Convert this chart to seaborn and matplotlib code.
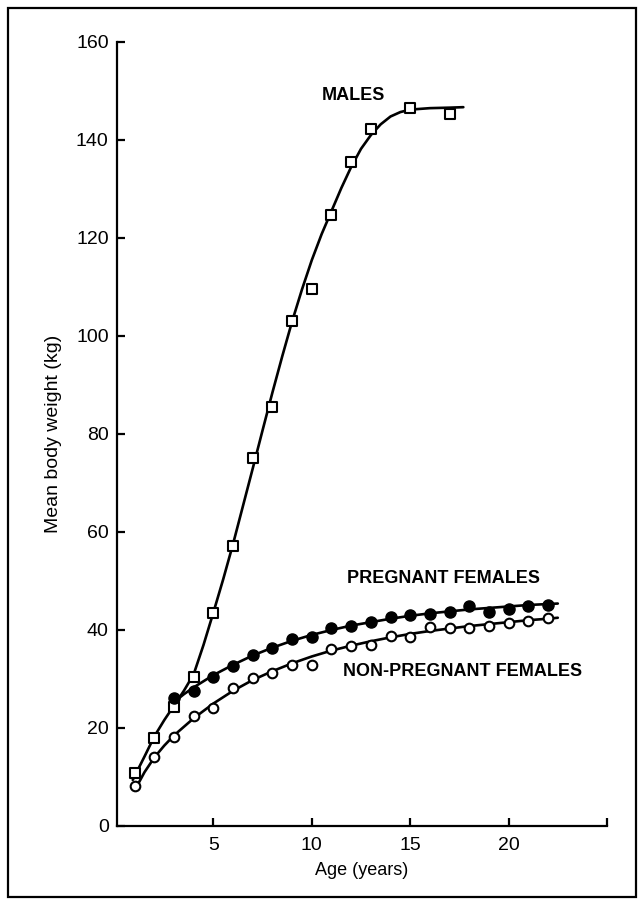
import matplotlib
matplotlib.use("Agg")
import matplotlib.pyplot as plt
import seaborn as sns
import pandas as pd
from matplotlib.patches import Rectangle

# ---- data ----
ages_males = [1, 2, 3, 4, 5, 6, 7, 8, 9, 10, 11, 12, 13, 15, 17]
males = [10.8, 17.9, 24.3, 30.4, 43.4, 57.1, 75.1, 85.5, 103.1, 109.6,
         124.6, 135.5, 142.3, 146.6, 145.4]

ages_pregnant = [3, 4, 5, 6, 7, 8, 9, 10, 11, 12, 13, 14, 15, 16, 17, 18,
                 19, 20, 21, 22]
pregnant = [26.1, 27.5, 30.5, 32.6, 34.8, 36.3, 38.1, 38.5, 40.4, 40.9,
            41.7, 42.7, 43.1, 43.2, 43.7, 44.9, 43.7, 44.3, 44.8, 45.2]

ages_nonpregnant = [1, 2, 3, 4, 5, 6, 7, 8, 9, 10, 11, 12, 13, 14, 15, 16,
                    17, 18, 19, 20, 21, 22]
nonpregnant = [8.2, 14.1, 18.2, 22.4, 24.1, 28.2, 30.2, 31.2, 32.9, 32.8,
               36.1, 36.7, 36.9, 38.8, 38.6, 40.6, 40.4, 40.4, 40.8, 41.4,
               41.8, 42.4]

# fitted curves
curve_males_x = [0.9, 1.5, 2, 2.5, 3, 3.5, 4, 4.5, 5, 5.5, 6, 6.5, 7, 7.5,
                 8, 8.5, 9, 9.5, 10, 10.5, 11, 11.5, 12, 12.5, 13, 13.5, 14,
                 14.5, 15, 16, 17, 17.7]
curve_males_y = [9.4, 14.2, 18.3, 21.6, 24.6, 27.6, 31.0, 37.0, 43.6, 50.4,
                 57.6, 65.3, 73.0, 80.8, 88.5, 95.9, 103.0, 109.5, 115.5,
                 120.8, 125.5, 130.2, 134.5, 138.2, 141.0, 143.2, 144.8,
                 145.7, 146.2, 146.5, 146.6, 146.7]

curve_preg_x = [3, 3.5, 4, 5, 6, 7, 8, 9, 10, 11, 12, 13, 14, 15, 16, 17,
                18, 19, 20, 21, 22, 22.5]
curve_preg_y = [25.3, 26.9, 28.3, 30.8, 32.9, 34.8, 36.4, 37.8, 39.0, 40.0,
                40.9, 41.6, 42.3, 42.9, 43.4, 43.8, 44.2, 44.5, 44.8, 45.1,
                45.3, 45.4]

curve_nonpreg_x = [1.0, 1.5, 2, 2.5, 3, 4, 5, 6, 7, 8, 9, 10, 11, 12, 13,
                   14, 15, 16, 17, 18, 19, 20, 21, 22, 22.5]
curve_nonpreg_y = [7.3, 11.0, 14.0, 16.4, 18.5, 22.0, 25.0, 27.6, 29.8, 31.6,
                   33.2, 34.6, 35.8, 36.8, 37.7, 38.5, 39.2, 39.8, 40.3, 40.8,
                   41.2, 41.6, 42.0, 42.3, 42.5]

y_ticks = [0, 20, 40, 60, 80, 100, 120, 140, 160]
x_ticks = [5, 10, 15, 20, 25]
x_tick_labels = ["5", "10", "15", "20", ""]
series_labels = ["MALES", "PREGNANT FEMALES", "NON-PREGNANT FEMALES"]

# ---- styling ----
sns.set_style("ticks")
plt.rcParams["font.family"] = ["Liberation Sans", "DejaVu Sans"]

fig = plt.figure(figsize=(6.39, 9.07), dpi=100)
ax = fig.add_axes([117 / 639, 1 - 826 / 907, 490 / 639, 784 / 907])

lw = 1.9
sns.lineplot(x=curve_males_x, y=curve_males_y, ax=ax, color="black",
             linewidth=lw, sort=False)
sns.lineplot(x=curve_preg_x, y=curve_preg_y, ax=ax, color="black",
             linewidth=lw, sort=False)
sns.lineplot(x=curve_nonpreg_x, y=curve_nonpreg_y, ax=ax, color="black",
             linewidth=lw, sort=False)

sns.scatterplot(x=ages_males, y=males, ax=ax, marker="s", s=48,
                facecolor="white", edgecolor="black", linewidth=1.5, zorder=5)
sns.scatterplot(x=ages_nonpregnant, y=nonpregnant, ax=ax, marker="o", s=48,
                facecolor="white", edgecolor="black", linewidth=1.5, zorder=5)
sns.scatterplot(x=ages_pregnant, y=pregnant, ax=ax, marker="o", s=64,
                color="black", edgecolor="black", linewidth=1.0, zorder=6)

ax.set_xlim(0.1, 25)
ax.set_ylim(0, 160)
ax.set_xticks(x_ticks)
ax.set_xticklabels(x_tick_labels)
ax.set_yticks(y_ticks)
ax.set_yticklabels([str(v) for v in y_ticks])

for side in ["top", "right"]:
    ax.spines[side].set_visible(False)
for side in ["left", "bottom"]:
    ax.spines[side].set_linewidth(1.6)
    ax.spines[side].set_color("black")

ax.tick_params(axis="both", direction="in", length=6, width=1.6,
               colors="black", labelsize=14)
ax.tick_params(axis="y", pad=6)
ax.tick_params(axis="x", pad=8)

ax.set_xlabel("Age (years)", fontsize=13, color="black", labelpad=6)
ax.set_ylabel("Mean body weight (kg)", fontsize=14, color="black")
ax.yaxis.set_label_coords(-0.113, 0.5)

ax.text(10.5, 149.0, series_labels[0], fontsize=13, fontweight="bold",
        ha="left", va="center", color="black")
ax.text(11.8, 50.6, series_labels[1], fontsize=13, fontweight="bold",
        ha="left", va="center", color="black")
ax.text(11.6, 31.6, series_labels[2], fontsize=13, fontweight="bold",
        ha="left", va="center", color="black")

# figure frame
fig.patches.append(Rectangle((8 / 639, 10 / 907), 628 / 639, 889 / 907,
                             transform=fig.transFigure, fill=False,
                             edgecolor="black", linewidth=1.6))

fig.savefig("out.png", dpi=100, facecolor="white")
